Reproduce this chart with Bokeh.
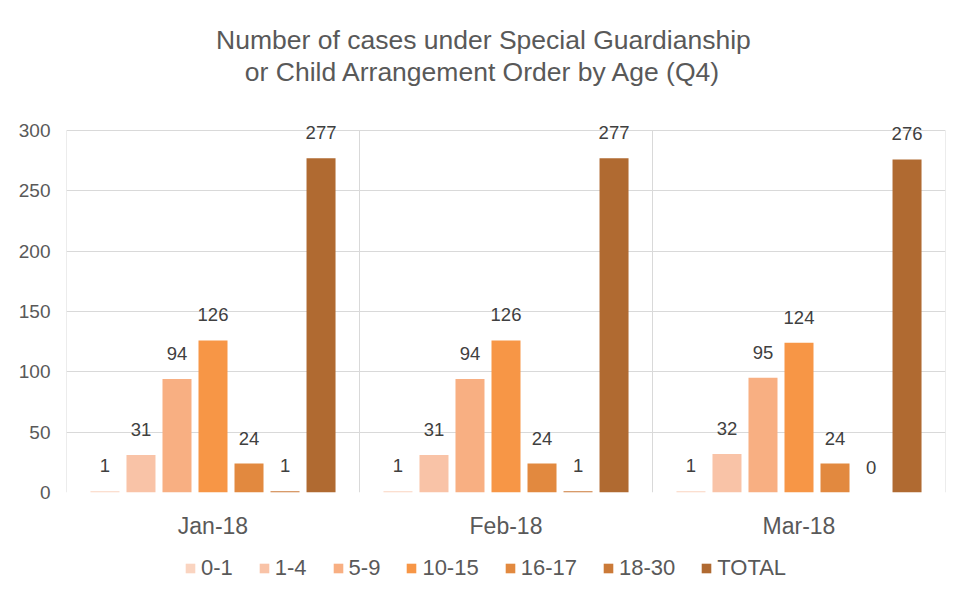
from bokeh.plotting import figure
from bokeh.models import (ColumnDataSource, FactorRange, Range1d, LabelSet, Label,
                          Legend, LegendItem, FixedTicker)
from bokeh.core.properties import value
from bokeh.transform import dodge
from bokeh.layouts import column
from bokeh.embed import file_html
from bokeh.resources import INLINE

months = ["Jan-18", "Feb-18", "Mar-18"]
series_names = ["0-1", "1-4", "5-9", "10-15", "16-17", "18-30", "TOTAL"]
v_0_1 = [1, 1, 1]
v_1_4 = [31, 31, 32]
v_5_9 = [94, 94, 95]
v_10_15 = [126, 126, 124]
v_16_17 = [24, 24, 24]
v_18_30 = [1, 1, 0]
v_total = [277, 277, 276]
series_values = [v_0_1, v_1_4, v_5_9, v_10_15, v_16_17, v_18_30, v_total]
colors = ["#FAD4C0", "#F9C3A7", "#F8AF82", "#F79646", "#E2893F", "#CB7A38", "#B06A31"]
title_lines = ["Number of cases under Special Guardianship",
               "or Child Arrangement Order by Age (Q4)"]
y_ticks = [0, 50, 100, 150, 200, 250, 300]
y_max = 300

FONT = "Liberation Sans"
TXT = "#595959"
GRID = "#D9D9D9"

# main chart: the frame reaches the top of the page so texts above the 300 line are not clipped
p = figure(x_range=FactorRange(factors=months, range_padding=0),
           y_range=Range1d(0, 407.7),
           width=964, height=546,
           output_backend="svg", toolbar_location=None,
           min_border_left=66, min_border_right=19, min_border_top=0, min_border_bottom=54)

p.outline_line_color = None
p.background_fill_color = "white"
p.border_fill_color = "white"

p.xgrid.visible = False
p.ygrid.grid_line_color = GRID
p.ygrid.grid_line_width = 1
p.yaxis.ticker = FixedTicker(ticks=y_ticks)

for ax in (p.xaxis, p.yaxis):
    ax.axis_line_color = None
    ax.major_tick_line_color = None
    ax.minor_tick_line_color = None
    ax.major_tick_out = 0
    ax.major_tick_in = 0
    ax.minor_tick_out = 0
    ax.major_label_text_font = FONT
    ax.major_label_text_color = TXT

p.yaxis.major_label_text_font_size = "19px"
p.yaxis.major_label_standoff = 16
p.xaxis.major_label_text_font_size = "23px"
p.xaxis.major_label_standoff = 20

# plot-area verticals: left/right edges and category separators (0..300 only)
n = len(months)
sep = ColumnDataSource(dict(x=list(range(n + 1)), y0=[0] * (n + 1), y1=[y_max] * (n + 1)))
p.segment(x0="x", y0="y0", x1="x", y1="y1", source=sep, line_color=GRID, line_width=1)

step = 0.1229
bw = 0.099
items = []
for i, (name, vals, col) in enumerate(zip(series_names, series_values, colors)):
    src = ColumnDataSource(dict(x=months, y=vals, lbl=[str(v) for v in vals]))
    off = (i - 3) * step
    p.vbar(x=dodge("x", off, range=p.x_range), top="y", width=bw, source=src,
           fill_color=col, line_color=None)
    labels = LabelSet(x=dodge("x", off, range=p.x_range), y="y", text="lbl", source=src,
                      text_align="center", text_baseline="alphabetic", y_offset=19,
                      text_font=value(FONT), text_font_size=value("18.5px"),
                      text_color=value("#404040"))
    p.add_layout(labels)

# two-line centred title
for txt, yy in zip(title_lines, [374.6, 348.1]):
    p.add_layout(Label(x=1.423, y=yy, text=txt, text_align="center", text_baseline="middle",
                       text_font=FONT, text_font_size="26.5px", text_color=TXT))

# legend strip below
p2 = figure(x_range=Range1d(0, 1), y_range=Range1d(0, 1), width=964, height=48,
            output_backend="svg", toolbar_location=None,
            x_axis_location=None, y_axis_location=None,
            min_border_left=5, min_border_right=0, min_border_top=0, min_border_bottom=4)
p2.outline_line_color = None
p2.xgrid.visible = False
p2.ygrid.visible = False
for name, col in zip(series_names, colors):
    # zero-height bar, only there so the legend has a swatch to draw
    r2 = p2.vbar(x=[0.5], top=[0], width=0.01, fill_color=col, line_color=None)
    items.append(LegendItem(label=name, renderers=[r2]))

legend = Legend(items=items, orientation="horizontal", location="center_left",
                glyph_width=12, glyph_height=12, label_standoff=5, spacing=25,
                label_text_font=FONT, label_text_font_size="22px", label_text_color=TXT,
                border_line_color=None, background_fill_alpha=0, padding=4, margin=118)
p2.add_layout(legend)

layout = column(p, p2, spacing=0)
open("out.html", "w").write(file_html(layout, INLINE))
